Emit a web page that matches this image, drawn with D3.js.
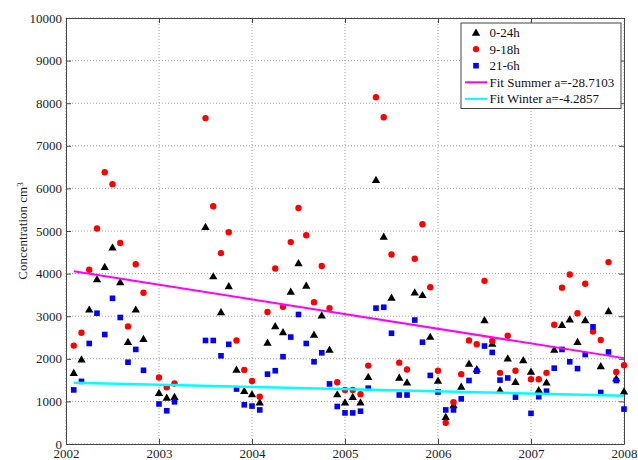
<!DOCTYPE html>
<html>
<head>
<meta charset="utf-8">
<script src="https://cdn.jsdelivr.net/npm/d3@7"></script>
<style>
  body { margin: 0; background: #fff; }
  svg text { font-family: "Liberation Serif", "Times New Roman", serif; }
</style>
</head>
<body>
<div id="chart"></div>
<script>
// monthly values, Jan 2002 .. Dec 2007 (null = no measurement)
var startYear = 2002;

var allDay = [1670, 1990, 3160, 3870, 4160, 4620, 3800, 2400, 3160, 2470, null, 1200,
  1090, 1110, null, null, null, 5100, 3940, 3100, 3710, 1750, 1250, 1170,
  980, 2380, 2770, 2630, 3580, 4250, 3720, 2570, 3020, 2220, 1170, 980,
  1110, 980, 1580, 6200, 4870, 3440, 1560, 1450, 3560, 3500, 2520, 1490,
  640, 915, 1350, 1890, 1760, 2910, 2360, 1270, 2010, 1460, 1970, 1700,
  1270, 1450, 2220, 2800, 2930, 2400, 2910, null, 1830, 3120, 1540, 1240];

var dayTime = [2310, 2610, 4090, 5060, 6380, 6100, 4720, 2760, 4220, 3550, null, 1560,
  1330, 1420, null, null, null, 7650, 5580, 4480, 4970, 2430, 1740, 1480,
  1110, 3100, 4120, 3220, 4740, 5540, 4900, 3330, 4180, 3190, 1450, 1270,
  1270, 1170, 1840, 8140, 7670, 4450, 1910, 1750, 4350, 5160, 3680, 1720,
  500, 980, 1640, 2430, 2340, 3830, 2420, 1670, 2540, 1720, null, 1520,
  1520, 1670, 2800, 3670, 3980, 3070, 3760, 2640, 2440, 4270, 1690, 1850];

var nightTime = [1270, 1470, 2360, 3070, 2570, 3420, 2970, 1920, 2220, 1730, null, 940,
  780, 990, null, null, null, 2430, 2430, 2070, 2340, 1290, 920, 890,
  800, 1640, 1720, 2050, 2510, 3040, 2360, 1930, 2140, 1410, 880, 730,
  730, 770, 1310, 3190, 3210, 2600, 1150, 1150, 2910, 2390, 1610, 1220,
  800, 800, 1060, 1490, 1710, 2300, 2150, 1500, 1550, 1100, null, 720,
  1110, 1240, 1780, 2220, 1930, 1770, 2100, 2750, 1210, 2160, 1490, 820];

// linear fits: value = b + a * monthIndex
var fitSummer = { a: -28.7103, b: 4083 };
var fitWinter = { a: -4.2857, b: 1444 };

var xTicks = [2002, 2003, 2004, 2005, 2006, 2007, 2008];
var yTicks = [0, 1000, 2000, 3000, 4000, 5000, 6000, 7000, 8000, 9000, 10000];

var svgWidth = 638;
var svgHeight = 460;

var margin = { top: 18, right: 14, bottom: 16, left: 66 };
var width = svgWidth - margin.left - margin.right;
var height = svgHeight - margin.top - margin.bottom;

var serif = "Liberation Serif, Times New Roman, serif";

var svg = d3.select("#chart")
  .append("svg")
  .attr("width", svgWidth)
  .attr("height", svgHeight);

var chartGroup = svg.append("g")
  .attr("transform", `translate(${margin.left}, ${margin.top})`);

var xScale = d3.scaleLinear().domain([2002, 2008]).range([0, width]);
var yScale = d3.scaleLinear().domain([0, 10000]).range([height, 0]);

function monthX(i) {
  return xScale(startYear + (i + 1) / 12);
}

// grid
chartGroup.append("g")
  .selectAll("line")
  .data(xTicks)
  .enter()
  .append("line")
  .attr("x1", d => xScale(d))
  .attr("x2", d => xScale(d))
  .attr("y1", 0)
  .attr("y2", height)
  .attr("stroke", "#a0a0a0")
  .attr("stroke-dasharray", "1,2");

chartGroup.append("g")
  .selectAll("line")
  .data(yTicks)
  .enter()
  .append("line")
  .attr("x1", 0)
  .attr("x2", width)
  .attr("y1", d => yScale(d))
  .attr("y2", d => yScale(d))
  .attr("stroke", "#a0a0a0")
  .attr("stroke-dasharray", "1,2");

// axes, ticks pointing inward like matlab
var bottomAxis = d3.axisBottom(xScale).tickValues(xTicks).tickFormat(d3.format("d"))
  .tickSizeInner(-5).tickSizeOuter(0).tickPadding(5);
var leftAxis = d3.axisLeft(yScale).tickValues(yTicks).tickFormat(d3.format("d"))
  .tickSizeInner(-5).tickSizeOuter(0).tickPadding(4);
var topAxis = d3.axisTop(xScale).tickValues(xTicks).tickFormat("")
  .tickSizeInner(-5).tickSizeOuter(0);
var rightAxis = d3.axisRight(yScale).tickValues(yTicks).tickFormat("")
  .tickSizeInner(-5).tickSizeOuter(0);

var axisGroups = [
  chartGroup.append("g").attr("transform", `translate(0, ${height})`).call(bottomAxis),
  chartGroup.append("g").call(leftAxis),
  chartGroup.append("g").call(topAxis),
  chartGroup.append("g").attr("transform", `translate(${width}, 0)`).call(rightAxis)
];
axisGroups.forEach(function(g) {
  g.attr("font-family", null).attr("font-size", null);
  g.selectAll("path, line").attr("stroke", "#444");
  g.selectAll("text")
    .style("font-family", serif)
    .style("font-size", "13px")
    .attr("fill", "#222");
});

// y label
var yLabel = svg.append("text")
  .attr("transform", `translate(27, ${margin.top + height / 2}) rotate(-90)`)
  .attr("text-anchor", "middle")
  .style("font-family", serif)
  .style("font-size", "13px")
  .attr("fill", "#222");
yLabel.append("tspan").text("Concentration cm");
yLabel.append("tspan").attr("dy", "-0.5em").style("font-size", "9px").text("3");

// markers
var triangle = d3.symbol().type(d3.symbolTriangle).size(30);

chartGroup.append("g")
  .selectAll("path")
  .data(allDay.map((v, i) => ({ i: i, v: v })).filter(d => d.v !== null))
  .enter()
  .append("path")
  .attr("d", triangle)
  .attr("transform", d => `translate(${monthX(d.i)}, ${yScale(d.v) + 0.8})`)
  .attr("fill", "#000");

chartGroup.append("g")
  .selectAll("circle")
  .data(dayTime.map((v, i) => ({ i: i, v: v })).filter(d => d.v !== null))
  .enter()
  .append("circle")
  .attr("cx", d => monthX(d.i))
  .attr("cy", d => yScale(d.v))
  .attr("r", 3.2)
  .attr("fill", "#ff0000");

chartGroup.append("g")
  .selectAll("rect")
  .data(nightTime.map((v, i) => ({ i: i, v: v })).filter(d => d.v !== null))
  .enter()
  .append("rect")
  .attr("x", d => monthX(d.i) - 2.8)
  .attr("y", d => yScale(d.v) - 2.8)
  .attr("width", 5.6)
  .attr("height", 5.6)
  .attr("fill", "#0000ff");

// fit lines, first to last month
function drawFit(fit, color, w) {
  var ends = [1, allDay.length];
  chartGroup.append("line")
    .attr("x1", monthX(ends[0] - 1))
    .attr("x2", monthX(ends[1] - 1))
    .attr("y1", yScale(fit.b + fit.a * ends[0]))
    .attr("y2", yScale(fit.b + fit.a * ends[1]))
    .attr("stroke", color)
    .attr("stroke-width", w);
}
drawFit(fitSummer, "#ff00ff", 2);
drawFit(fitWinter, "#00ffff", 2.5);

// legend
var legend = svg.append("g").attr("transform", "translate(461, 23)");
legend.append("rect")
  .attr("width", 160)
  .attr("height", 85.5)
  .attr("fill", "#fff")
  .attr("stroke", "#444");

var legendItems = [
  { label: "0-24h", kind: "tri" },
  { label: "9-18h", kind: "circle" },
  { label: "21-6h", kind: "square" },
  { label: "Fit Summer a=" + fitSummer.a, kind: "line", color: "#ff00ff" },
  { label: "Fit Winter a=" + fitWinter.a, kind: "line", color: "#00ffff" }
];

legendItems.forEach(function(item, k) {
  var cy = 9.5 + k * 16.6;
  if (item.kind === "tri") {
    legend.append("path").attr("d", triangle)
      .attr("transform", `translate(15, ${cy + 0.8})`).attr("fill", "#000");
  } else if (item.kind === "circle") {
    legend.append("circle").attr("cx", 15).attr("cy", cy).attr("r", 3.2).attr("fill", "#ff0000");
  } else if (item.kind === "square") {
    legend.append("rect").attr("x", 12.2).attr("y", cy - 2.8)
      .attr("width", 5.6).attr("height", 5.6).attr("fill", "#0000ff");
  } else {
    legend.append("line").attr("x1", 4).attr("x2", 26.5)
      .attr("y1", cy).attr("y2", cy)
      .attr("stroke", item.color).attr("stroke-width", 2);
  }
  legend.append("text")
    .attr("x", 28.5)
    .attr("y", cy)
    .attr("dy", "0.35em")
    .style("font-family", serif)
    .style("font-size", "13px")
    .attr("fill", "#111")
    .text(item.label);
});
</script>
</body>
</html>
